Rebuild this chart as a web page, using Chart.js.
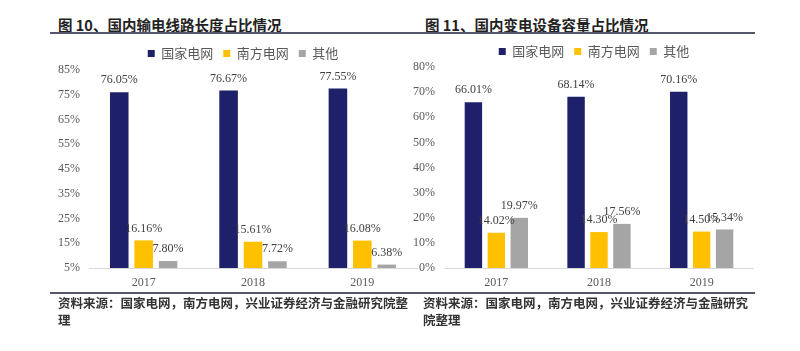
<!DOCTYPE html>
<html>
<head>
<meta charset="utf-8">
<script src="https://cdn.jsdelivr.net/npm/chart.js@4"></script>
<style>
  body { margin: 0; background: #fff; width: 800px; height: 351px; overflow: hidden; position: relative; }
  .title { position: absolute; top: 14px; font: 700 14.5px "Noto Sans CJK SC", sans-serif; color: #222; white-space: nowrap; }
  .rule { position: absolute; height: 2px; background: #55566e; }
  .foot { position: absolute; top: 294px; font: 700 12.5px/17px "Noto Sans CJK SC", sans-serif; color: #333; white-space: nowrap; }
  .box { position: absolute; }
</style>
</head>
<body>
<div class="title" style="left:58px">图 10、国内输电线路长度占比情况</div>
<div class="title" style="left:425px">图 11、国内变电设备容量占比情况</div>
<div class="rule" style="left:50px;width:350px;top:32px"></div>
<div class="rule" style="left:400px;width:355px;top:32px"></div>

<div class="box" style="left:0;top:33px;width:486px;height:259px"><canvas id="lineChart"></canvas></div>
<div class="box" style="left:400px;top:35px;width:388px;height:257px"><canvas id="subChart"></canvas></div>

<div class="rule" style="left:50px;width:350px;top:292px"></div>
<div class="rule" style="left:400px;width:355px;top:292px"></div>
<div class="foot" style="left:58px">资料来源：国家电网，南方电网，兴业证券经济与金融研究院整<br>理</div>
<div class="foot" style="left:423px;background:#fff">资料来源：国家电网，南方电网，兴业证券经济与金融研究<br>院整理</div>

<script>
//*Data
const years = ['2017', '2018', '2019']
const seriesNames = ['国家电网', '南方电网', '其他']
const seriesColors = ['#1e206a', '#ffc000', '#a5a5a5']

//? 图10 输电线路长度占比 (%)
const lineState = [76.05, 76.67, 77.55]
const lineSouth = [16.16, 15.61, 16.08]
const lineOther = [7.80, 7.72, 6.38]

//? 图11 变电设备容量占比 (%)
const subState = [66.01, 68.14, 70.16]
const subSouth = [14.02, 14.30, 14.50]
const subOther = [19.97, 17.56, 15.34]

//*Value labels above the bars
const valueLabels = {
  id: 'valueLabels',
  afterDatasetsDraw(chart) {
    const ctx = chart.ctx
    ctx.save()
    ctx.font = '12px "Liberation Serif", serif'
    ctx.fillStyle = '#404040'
    ctx.textAlign = 'center'
    ctx.textBaseline = 'middle'
    chart.data.datasets.forEach((ds, i) => {
      chart.getDatasetMeta(i).data.forEach((bar, j) => {
        ctx.fillText(ds.data[j].toFixed(2) + '%', bar.x, bar.y - 12)
      })
    })
    ctx.restore()
  }
}

const makeChart = (id, sets, yMin, yMax, cfg) => {
  const ctx = document.getElementById(id).getContext('2d')
  return new Chart(ctx, {
    type: 'bar',
    data: {
      labels: years,
      datasets: sets.map((d, i) => ({
        label: seriesNames[i],
        data: d,
        backgroundColor: seriesColors[i],
        borderWidth: 0,
        categoryPercentage: 0.67,
        barPercentage: 0.76,
      })),
    },
    options: {
      responsive: true,
      maintainAspectRatio: false,
      animation: false,
      layout: { padding: 0 },
      plugins: {
        tooltip: { enabled: false },
        legend: {
          position: 'top',
          maxHeight: cfg.legendMax,
          labels: {
            boxWidth: 7,
            boxHeight: 7,
            padding: 10,
            color: '#595959',
            font: { family: '"Noto Sans CJK SC", sans-serif', size: 13 },
          },
        },
      },
      scales: {
        x: {
          grid: { display: false, drawTicks: false },
          border: { display: true, color: '#d9d9d9', width: 1 },
          ticks: { color: '#595959', padding: 8, font: { family: '"Liberation Serif", serif', size: 12 } },
          afterFit: (s) => {
            s.height = 24
            s.paddingLeft = 0
            s.paddingRight = cfg.rightGap
          },
        },
        y: {
          min: yMin,
          max: yMax,
          grid: { display: false, drawTicks: false },
          border: { display: false },
          ticks: {
            stepSize: 10,
            padding: cfg.tickPad,
            color: '#595959',
            font: { family: '"Liberation Serif", serif', size: 12 },
            callback: (v) => v + '%',
          },
          afterFit: (s) => {
            s.width = cfg.yWidth
            if (cfg.topPad) s.paddingTop = cfg.topPad
          },
        },
      },
    },
    plugins: [valueLabels],
  })
}

makeChart('lineChart', [lineState, lineSouth, lineOther], 5, 85,
  { yWidth: 89, rightGap: 69, tickPad: 9, topPad: 37, legendMax: 40 })
makeChart('subChart', [subState, subSouth, subOther], 0, 80,
  { yWidth: 45, rightGap: 35, tickPad: 10, topPad: 0, legendMax: 32 })
</script>
</body>
</html>
